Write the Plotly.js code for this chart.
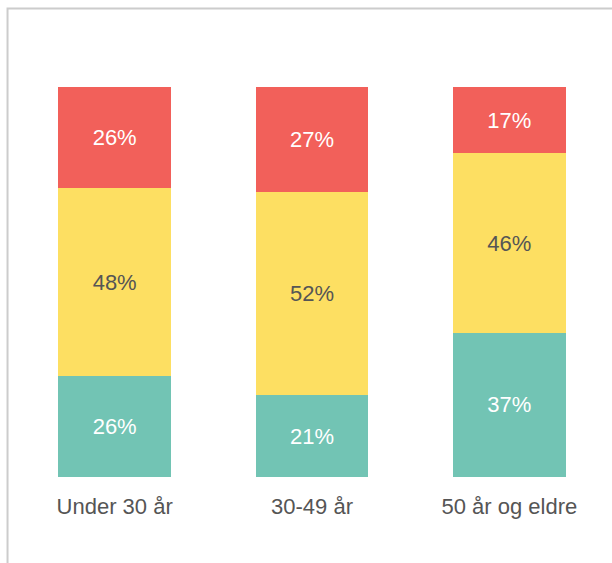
<!DOCTYPE html>
<html>
<head>
<meta charset="utf-8">
<script src="https://cdn.plot.ly/plotly-3.0.1.min.js"></script>
<style>
html,body{margin:0;padding:0;background:#fff;}
#chart{width:612px;height:563px;}
</style>
</head>
<body>
<div id="chart"></div>
<script>
const categories = ["Under 30 år", "30-49 år", "50 år og eldre"];
const seriesGreen = [26, 21, 37];
const seriesYellow = [48, 52, 46];
const seriesRed = [26, 27, 17];

const colors = {green: "#72C4B4", yellow: "#FDDF62", red: "#F2605A"};
const textColors = {green: "#ffffff", yellow: "#555555", red: "#ffffff"};

function mk(vals, key) {
  return {
    type: "bar",
    x: categories,
    y: vals,
    width: 0.572,
    text: vals.map(v => v + "%"),
    textposition: "inside",
    insidetextanchor: "middle",
    textangle: 0,
    insidetextfont: {family: "Arial, Liberation Sans, sans-serif", size: 22, color: textColors[key]},
    marker: {color: colors[key], line: {color: "#ffffff", width: 0}},
    hoverinfo: "none",
    showlegend: false
  };
}

const data = [mk(seriesGreen, "green"), mk(seriesYellow, "yellow"), mk(seriesRed, "red")];

const layout = {
  width: 612,
  height: 563,
  barmode: "stack",
  margin: {l: 16, r: 3.5, t: 87, b: 86, pad: 0},
  paper_bgcolor: "#ffffff",
  plot_bgcolor: "#ffffff",
  xaxis: {
    type: "category",
    range: [-0.5, 2.5],
    showgrid: false, zeroline: false, showline: false, ticks: "",
    ticklabelstandoff: 14,
    tickfont: {family: "Arial, Liberation Sans, sans-serif", size: 22, color: "#555555"},
    fixedrange: true
  },
  yaxis: {
    range: [0, 100],
    visible: false,
    showgrid: false, zeroline: false,
    fixedrange: true
  },
  shapes: [{
    type: "rect", xref: "paper", yref: "paper",
    x0: -0.0143, x1: 1.2, y0: -0.4, y1: 1.2013,
    line: {color: "#cccccc", width: 2},
    fillcolor: "rgba(0,0,0,0)",
    layer: "below"
  }]
};

Plotly.newPlot("chart", data, layout, {displayModeBar: false, staticPlot: true});
</script>
</body>
</html>
